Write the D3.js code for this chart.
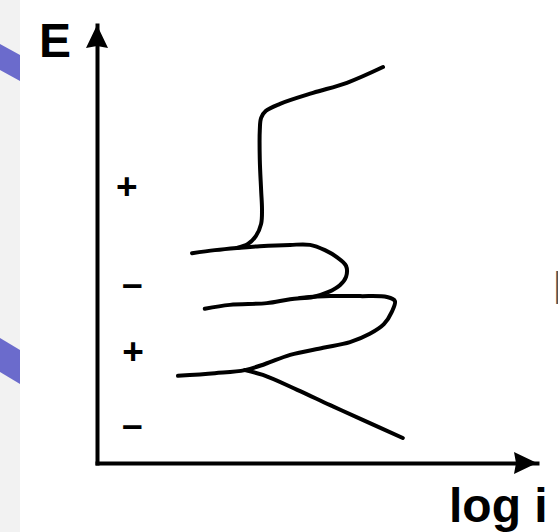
<!DOCTYPE html>
<html>
<head>
<meta charset="utf-8">
<script src="https://cdn.jsdelivr.net/npm/d3@7"></script>
<style>
  html, body { margin: 0; padding: 0; background: #ffffff; }
  svg { display: block; }
</style>
</head>
<body>
<svg id="chart" width="558" height="532"></svg>
<script>
// Polarization curve sketch: potential E versus log i, in arbitrary units (0–10 on each axis).

// Upper anodic branch: active nose rising into the passive plateau and transpassive region
const anodicTopLogI = [3.18, 3.43, 3.61, 3.73, 3.75, 3.73, 3.70, 3.70, 3.73, 3.84, 4.16, 4.91, 5.68, 6.50];
const anodicTopE    = [4.91, 5.00, 5.18, 5.46, 5.78, 6.23, 6.92, 7.60, 7.88, 8.04, 8.20, 8.45, 8.68, 9.04];

// Upper cathodic loop
const loopUpperLogI = [2.16, 2.68, 3.18, 3.70, 4.39, 4.84, 5.18, 5.45, 5.66, 5.66, 5.52, 5.25, 4.91, 4.39, 3.86, 3.02, 2.45];
const loopUpperE    = [4.79, 4.86, 4.91, 4.95, 4.98, 4.98, 4.86, 4.70, 4.50, 4.25, 4.06, 3.90, 3.79, 3.74, 3.65, 3.61, 3.52];

// Lower anodic loop
const loopLowerLogI = [4.61, 5.30, 5.98, 6.59, 6.77, 6.70, 6.52, 6.20, 5.75, 5.14, 4.39, 3.82, 3.36, 2.68, 1.84];
const loopLowerE    = [3.77, 3.81, 3.81, 3.79, 3.70, 3.45, 3.17, 2.95, 2.76, 2.63, 2.47, 2.26, 2.12, 2.05, 1.99];

// Cathodic Tafel branch
const cathodicLogI = [3.36, 3.77, 4.55, 5.30, 6.05, 6.95];
const cathodicE    = [2.12, 2.01, 1.67, 1.32, 0.98, 0.57];

// Sign of the net current in each potential band
const signLabels = ["+", "–", "+", "–"];
const signE      = [6.32, 4.04, 2.56, 0.82];
const signLogI   = [0.68, 0.80, 0.82, 0.80];

const axisLabelE = "E";
const axisLabelI = "log i";

const svg = d3.select("#chart");
const FONT = "'Liberation Sans', Arial, Helvetica, sans-serif";

// page backdrop
svg.append("rect").attr("x", 0).attr("y", 0).attr("width", 558).attr("height", 532).attr("fill", "#ffffff");
svg.append("rect").attr("x", 0).attr("y", 0).attr("width", 20).attr("height", 532).attr("fill", "#f2f2f2");
svg.append("polygon").attr("points", "0,44 20,55 20,81 0,70").attr("fill", "#6b6bcc");
svg.append("polygon").attr("points", "0,338 20,350 20,384 0,372").attr("fill", "#6b6bcc");

// scales
const x = d3.scaleLinear().domain([0, 10]).range([97, 537]);
const y = d3.scaleLinear().domain([0, 10]).range([463, 25]);

// axes: bare lines with arrowheads
const xAxis = svg.append("g")
  .attr("transform", `translate(0,${y(0)})`)
  .call(d3.axisBottom(x).tickValues([]).tickSizeOuter(0));
const yAxis = svg.append("g")
  .attr("transform", `translate(${x(0)},0)`)
  .call(d3.axisLeft(y).tickValues([]).tickSizeOuter(0));
[xAxis, yAxis].forEach(g => g.select(".domain")
  .attr("stroke", "#000").attr("stroke-width", 4).attr("stroke-linecap", "square"));

const [xr0, xr1] = x.range();
const [yr0, yr1] = y.range();
svg.append("path")
  .attr("d", `M${xr1},${yr0} L${xr1 - 23},${yr0 - 11} L${xr1 - 21},${yr0} L${xr1 - 23},${yr0 + 11} Z`)
  .attr("fill", "#000");
svg.append("path")
  .attr("d", `M${xr0},${yr1} L${xr0 - 11},${yr1 + 23} L${xr0},${yr1 + 21} L${xr0 + 11},${yr1 + 23} Z`)
  .attr("fill", "#000");

// curves
const line = d3.line()
  .x(d => x(d[0]))
  .y(d => y(d[1]))
  .curve(d3.curveCatmullRom.alpha(0.5));

const curves = [
  d3.zip(anodicTopLogI, anodicTopE),
  d3.zip(loopUpperLogI, loopUpperE),
  d3.zip(loopLowerLogI, loopLowerE),
  d3.zip(cathodicLogI, cathodicE)
];

svg.append("g").selectAll("path")
  .data(curves)
  .join("path")
  .attr("d", line)
  .attr("fill", "none")
  .attr("stroke", "#000")
  .attr("stroke-width", 4)
  .attr("stroke-linecap", "round")
  .attr("stroke-linejoin", "round");

// sign labels
const signSize = 37;
svg.append("g").selectAll("text")
  .data(signLabels.map((s, i) => ({ s, e: signE[i], li: signLogI[i] })))
  .join("text")
  .attr("x", d => x(d.li))
  .attr("y", d => y(d.e) + (d.s === "+" ? 0.35 : 0.27) * signSize)
  .attr("text-anchor", "middle")
  .attr("font-family", FONT)
  .attr("font-weight", "bold")
  .attr("font-size", signSize)
  .attr("fill", "#000")
  .text(d => d.s);

// axis titles
svg.append("text")
  .attr("x", 39).attr("y", 57)
  .attr("font-family", FONT).attr("font-weight", "bold").attr("font-size", 48)
  .attr("fill", "#000")
  .text(axisLabelE);

svg.append("text")
  .attr("x", 449).attr("y", 522)
  .attr("font-family", FONT).attr("font-weight", "bold").attr("font-size", 48)
  .attr("fill", "#000")
  .text(axisLabelI);

// edge of a neighbouring slide caption
svg.append("text")
  .attr("x", 553).attr("y", 304)
  .attr("font-family", FONT).attr("font-weight", "bold").attr("font-size", 48)
  .attr("fill", "#555")
  .text("I");
</script>
</body>
</html>
